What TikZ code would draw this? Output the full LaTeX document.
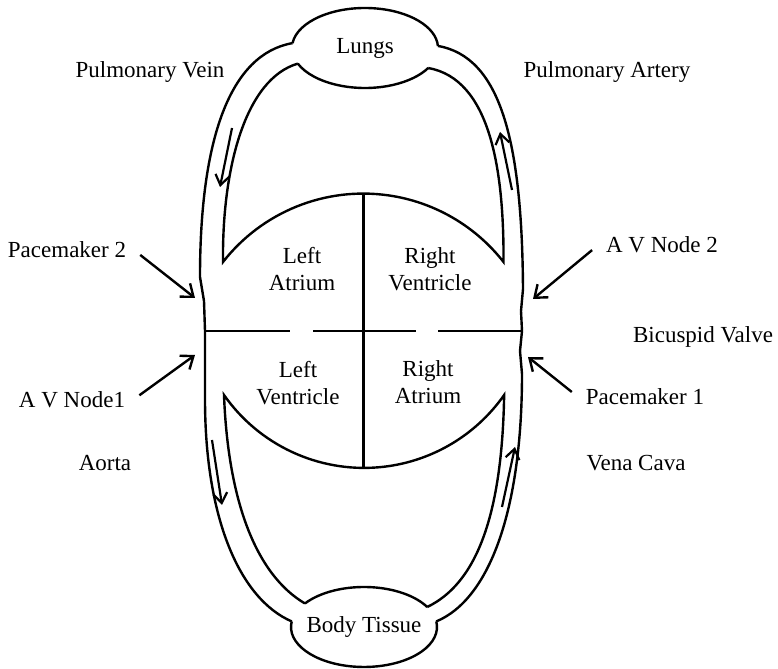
\documentclass[tikz,border=0pt]{standalone}
\usepackage{fontspec}
\setmainfont{Liberation Serif}
\usetikzlibrary{arrows.meta,shapes.geometric}

\begin{document}
\begin{tikzpicture}[
  x=0.5pt, y=0.5pt,
  line width=1.2pt,
  every node/.style={font=\fontsize{11.5}{13.5}\selectfont, align=center},
  organ/.style={ellipse, minimum width=73pt, minimum height=40pt, inner sep=0pt},
  flow/.style={-{Straight Barb[length=5pt,width=7pt]}, line width=1.1pt},
  pointer/.style={-{Straight Barb[length=5.5pt,width=8.5pt]}, line width=1.2pt, shorten <=4pt},
]

\useasboundingbox (0,0) rectangle (778,669);

\node[organ] (lungs) at (365,621) {Lungs};
\node[organ] (tissue) at (364,42) {Body Tissue};

% where the vessels open into the two organs
\coordinate (lungsOL) at ([shift={(173:73 and 40)}]lungs.center);
\coordinate (lungsOR) at ([shift={(3:73 and 40)}]lungs.center);
\coordinate (lungsIL) at ([shift={(203:73 and 40)}]lungs.center);
\coordinate (lungsIR) at ([shift={(330:73 and 40)}]lungs.center);
\coordinate (tissueOL) at ([shift={(172:73 and 40)}]tissue.center);
\coordinate (tissueOR) at ([shift={(8:73 and 40)}]tissue.center);
\coordinate (tissueIL) at ([shift={(144:73 and 40)}]tissue.center);
\coordinate (tissueIR) at ([shift={(30:73 and 40)}]tissue.center);

\draw (lungsOL) arc[start angle=173, end angle=3, x radius=73, y radius=40];
\draw (lungsIL) arc[start angle=203, end angle=330, x radius=73, y radius=40];
\draw (tissueIL) arc[start angle=144, end angle=30, x radius=73, y radius=40];
\draw (tissueOL) arc[start angle=172, end angle=368, x radius=73, y radius=40];

\coordinate (wallL) at (205,338);
\coordinate (wallR) at (522,338);
\coordinate (atriaL) at (223,407);
\coordinate (ventL) at (224,274);

% outer walls
\draw
(lungsOL) .. controls (230,615) and (200,530) .. (200,392)
-- (204,368) -- (wallL) -- (205,270)
.. controls (205,150) and (240,70) .. (tissueOL)
;
\draw
(lungsOR) .. controls (500,612) and (522,530) .. (523,380)
-- (521,358) -- (wallR) -- (520,318) -- (522,295)
.. controls (522,160) and (490,70) .. (tissueOR)
;

% inner walls with the two chamber arcs
\draw
(lungsIL) .. controls (245,590) and (222,500) .. (atriaL)
arc[start angle=142, end angle=38, radius=178]
.. controls (504,500) and (490,590) .. (lungsIR)
;
\draw
(tissueIL) .. controls (255,95) and (228,170) .. (ventL)
arc[start angle=215, end angle=325, radius=171]
.. controls (502,150) and (475,85) .. (tissueIR)
;

% septum and valves
\draw (363.5,474) -- (363.5,201);
\draw (wallL) -- (290,338) (313,338) -- (416,338) (438,338) -- (wallR);

\foreach \xa/\ya/\xb/\yb in {232/541/220/482, 512/479/500/537, 212/229/222/164, 502/162/515/222}
  \draw[flow] (\xa,\ya) -- (\xb,\yb);

\node (pvein) at (150,597) {Pulmonary Vein};
\node (partery) at (607,597) {Pulmonary Artery};
\node (pm2) at (67,419) {Pacemaker 2};
\node (avn1) at (72,269) {A V Node1};
\node (avn2) at (662,424) {A V Node 2};
\node (valve) at (703,332) {Bicuspid Valve};
\node (pm1) at (645,272) {Pacemaker 1};
\node (aorta) at (105,206) {Aorta};
\node (vcava) at (636,206) {Vena Cava};

\node (latrium) at (302,400) {Left\\Atrium};
\node (rvent) at (430,400) {Right\\Ventricle};
\node (lvent) at (298,286) {Left\\Ventricle};
\node (ratrium) at (428,287) {Right\\Atrium};

\coordinate (pm2tip) at (195,371);
\coordinate (avn1tip) at (195,314);
\coordinate (avn2tip) at (533,370);
\coordinate (pm1tip) at (528,312);

\foreach \lab/\tip in {pm2.east/pm2tip, avn1.east/avn1tip, avn2.west/avn2tip, pm1.west/pm1tip}
  \draw[pointer] (\lab) -- (\tip);

\end{tikzpicture}
\end{document}
